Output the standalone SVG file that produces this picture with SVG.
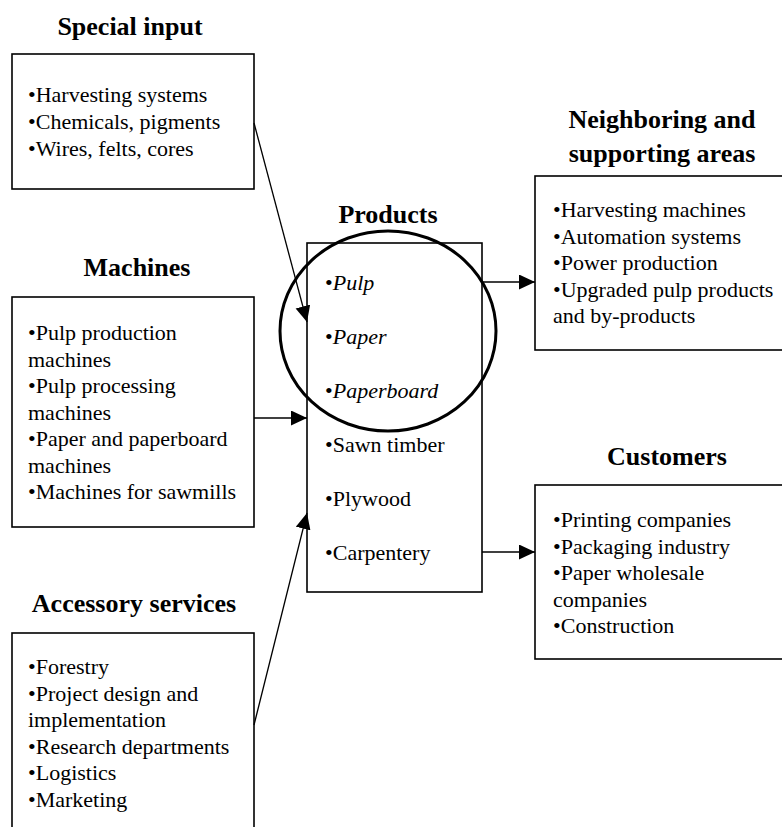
<svg xmlns="http://www.w3.org/2000/svg" width="782" height="827" viewBox="0 0 782 827">
<style>
text{font-family:"Liberation Serif","Times New Roman",serif;fill:#000}
.t{font-size:26px;font-weight:bold;text-anchor:middle}
.b{font-size:22px}
.i{font-style:italic}
.box{fill:#fff;stroke:#000;stroke-width:1.6}
.ln{stroke:#000;stroke-width:1.3;fill:none}
</style>
<defs>
<marker id="ah" markerUnits="userSpaceOnUse" markerWidth="18" markerHeight="16" refX="16" refY="7.5" orient="auto">
<path d="M0,0 L16,7.5 L0,15 Z" fill="#000"/>
</marker>
</defs>
<g id="special">
<text class="t" x="130" y="35">Special input</text>
<rect class="box" x="12" y="54" width="242" height="135"/>
<text class="b" x="28" y="102">•Harvesting systems</text>
<text class="b" x="28" y="129">•Chemicals, pigments</text>
<text class="b" x="28" y="156">•Wires, felts, cores</text>
</g>
<g id="machines">
<text class="t" x="137" y="276">Machines</text>
<rect class="box" x="12" y="297" width="242" height="230"/>
<text class="b" x="28" y="340">•Pulp production</text>
<text class="b" x="28" y="366.5">machines</text>
<text class="b" x="28" y="393">•Pulp processing</text>
<text class="b" x="28" y="419.5">machines</text>
<text class="b" x="28" y="446">•Paper and paperboard</text>
<text class="b" x="28" y="472.5">machines</text>
<text class="b" x="28" y="499">•Machines for sawmills</text>
</g>
<g id="accessory">
<text class="t" x="134" y="612">Accessory services</text>
<rect class="box" x="12" y="633" width="242" height="210"/>
<text class="b" x="28" y="674">•Forestry</text>
<text class="b" x="28" y="700.5">•Project design and</text>
<text class="b" x="28" y="727">implementation</text>
<text class="b" x="28" y="753.5">•Research departments</text>
<text class="b" x="28" y="780">•Logistics</text>
<text class="b" x="28" y="806.5">•Marketing</text>
</g>
<g id="products">
<text class="t" x="388" y="223">Products</text>
<rect class="box" x="307" y="243" width="175" height="349"/>
<text class="b" x="325" y="290">•<tspan class="i">Pulp</tspan></text>
<text class="b" x="325" y="344">•<tspan class="i">Paper</tspan></text>
<text class="b" x="325" y="398">•<tspan class="i">Paperboard</tspan></text>
<text class="b" x="325" y="452">•Sawn timber</text>
<text class="b" x="325" y="506">•Plywood</text>
<text class="b" x="325" y="560">•Carpentery</text>
<ellipse cx="388" cy="331" rx="108" ry="100" fill="none" stroke="#000" stroke-width="3"/>
</g>
<g id="neighboring">
<text class="t" x="662" y="128">Neighboring and</text>
<text class="t" x="662" y="162">supporting areas</text>
<rect class="box" x="535" y="176" width="260" height="174"/>
<text class="b" x="553" y="217">•Harvesting machines</text>
<text class="b" x="553" y="243.5">•Automation systems</text>
<text class="b" x="553" y="270">•Power production</text>
<text class="b" x="553" y="296.5">•Upgraded pulp products</text>
<text class="b" x="553" y="323">and by-products</text>
</g>
<g id="customers">
<text class="t" x="667" y="465">Customers</text>
<rect class="box" x="535" y="485" width="260" height="174"/>
<text class="b" x="553" y="527">•Printing companies</text>
<text class="b" x="553" y="553.5">•Packaging industry</text>
<text class="b" x="553" y="580">•Paper wholesale</text>
<text class="b" x="553" y="606.5">companies</text>
<text class="b" x="553" y="633">•Construction</text>
</g>
<g id="connectors">
<line class="ln" x1="254" y1="123" x2="307" y2="322" marker-end="url(#ah)"/>
<line class="ln" x1="254" y1="418" x2="307" y2="418" marker-end="url(#ah)"/>
<line class="ln" x1="254" y1="725" x2="307" y2="513" marker-end="url(#ah)"/>
<line class="ln" x1="482" y1="282" x2="535" y2="282" marker-end="url(#ah)"/>
<line class="ln" x1="482" y1="552" x2="535" y2="552" marker-end="url(#ah)"/>
</g>
</svg>
